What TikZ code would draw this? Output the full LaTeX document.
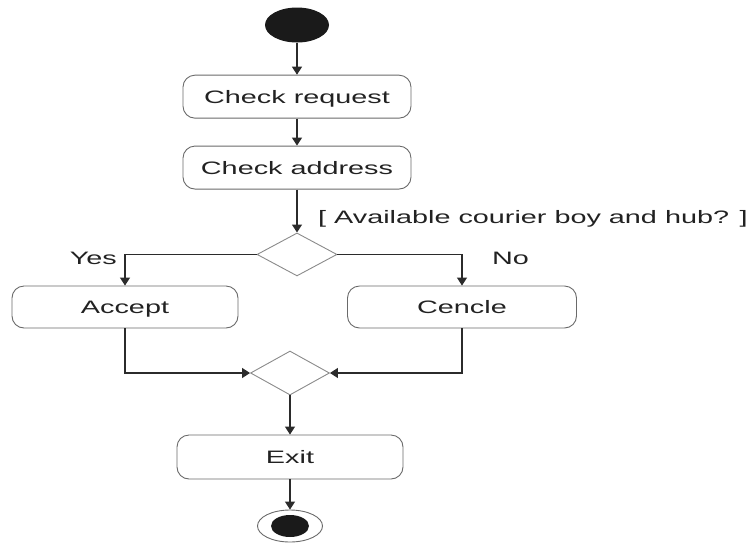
\documentclass[tikz,border=0pt]{standalone}
\usepackage{fontspec}
\usepackage{tikz}
\usetikzlibrary{positioning, shapes.geometric, arrows.meta}
\usepackage{xcolor}

\newfontfamily\diagface[FakeStretch=1.6]{Liberation Sans}
\newcommand{\diagfont}{\diagface\fontsize{18pt}{20pt}\selectfont}

\definecolor{linedark}{HTML}{2B2B2B}
\definecolor{boxgray}{HTML}{6A6A6A}
\definecolor{diagray}{HTML}{8A8A8A}
\definecolor{textdark}{HTML}{222222}
\definecolor{blackfill}{HTML}{1A1A1A}

\begin{document}
\begin{tikzpicture}[
    x=1pt, y=-1pt,
    node distance=27pt,
    box/.style={rectangle, rounded corners=12pt, draw=boxgray, line width=0.9pt, minimum width=228pt, minimum height=43pt, text height=13pt, text depth=0pt, align=center, font=\diagfont, text=textdark},
    decision/.style={diamond, draw=diagray, line width=0.9pt, minimum width=80pt, minimum height=43pt, inner sep=0pt},
    arrow/.style={-{Triangle[width=10pt, length=8pt]}, draw=linedark, line width=1.2pt},
    lbl/.style={font=\diagfont, text=textdark, inner sep=0pt}
]

\useasboundingbox (0,0) rectangle (753,542);

\node[ellipse, fill=blackfill, minimum width=64pt, minimum height=35pt, inner sep=0pt] (start) at (297,25) {};
\node[box, below=32pt of start] (req) {Check request};
\node[box, below=of req] (addr) {Check address};
\node[decision, below=43pt of addr] (dec) {};

\node[box, minimum width=226pt, minimum height=42pt] (acc) at (125,307) {Accept};
\node[box, minimum width=229pt, minimum height=42pt] (cen) at (462,307) {Cencle};

\node[decision, minimum width=79pt, minimum height=44pt] (merge) at (290,373) {};
\node[box, minimum width=226pt, minimum height=44pt] (exit) at (290,457) {Exit};

\node[ellipse, draw=boxgray, line width=0.9pt, minimum width=65pt, minimum height=32pt, inner sep=0pt] (end) at (290,526) {};
\node[ellipse, fill=blackfill, minimum width=38pt, minimum height=22pt, inner sep=0pt] (endin) at (end) {};

\node[lbl, anchor=base west] (guard) at (318,223) {[ Available courier boy and hub? ]};
\node[lbl, anchor=base east] (yes) at (117,264) {Yes};
\node[lbl, anchor=base west] (no) at (492,264) {No};

\draw[arrow] (start) -- (req);
\draw[arrow] (req) -- (addr);
\draw[arrow] (addr) -- (dec);
\draw[arrow] (dec.west) -| (acc.north);
\draw[arrow] (dec.east) -| (cen.north);
\draw[arrow] (acc.south) |- (merge.west);
\draw[arrow] (cen.south) |- (merge.east);
\draw[arrow] (merge) -- (exit);
\draw[arrow] (exit) -- (end);

\end{tikzpicture}
\end{document}
